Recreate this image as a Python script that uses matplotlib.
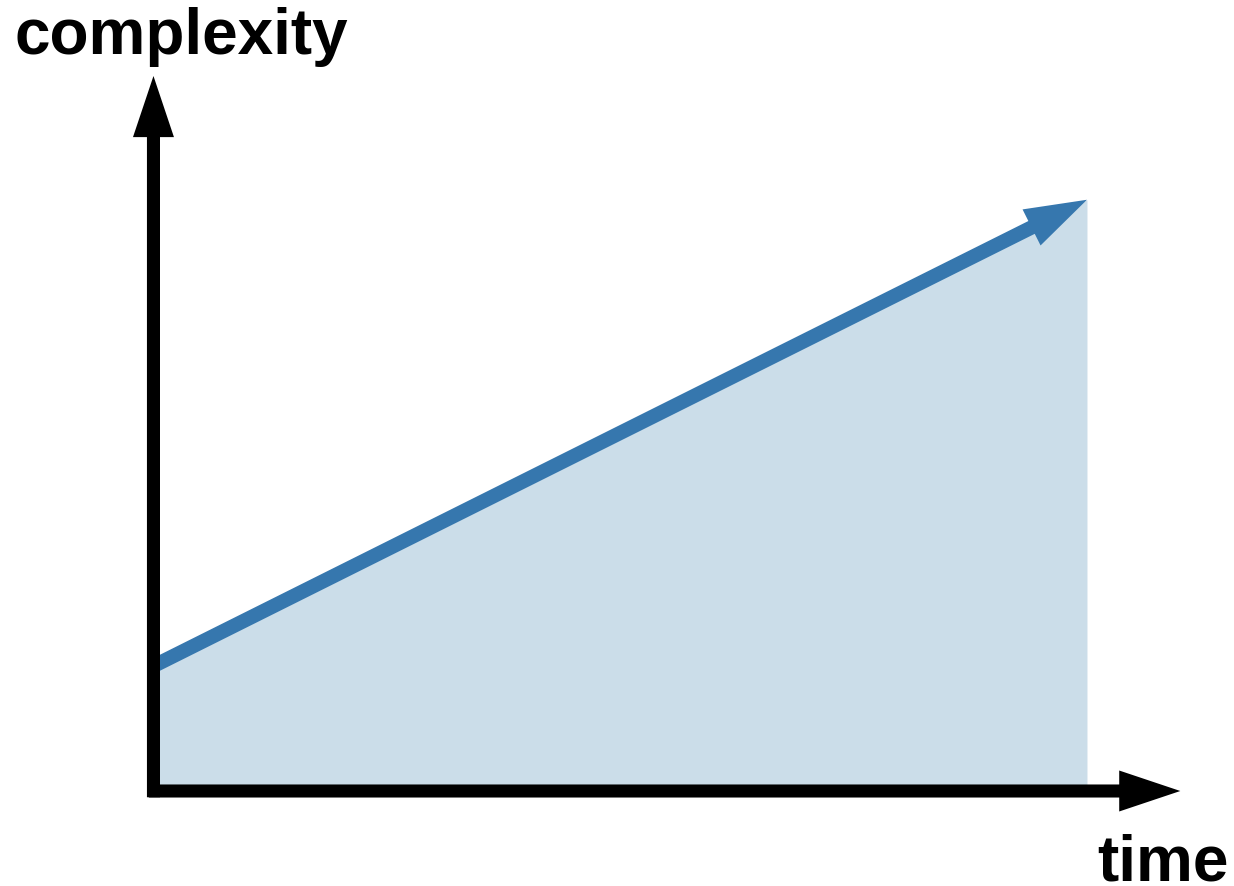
import numpy as np
import matplotlib.pyplot as plt

plt.rcParams['font.family'] = ['Liberation Sans', 'DejaVu Sans']

# data: complexity grows linearly with time
time = [0, 10]
complexity = [1.0, 4.73]

line_blue = '#3677ae'
fill_blue = '#cbdde9'

fig = plt.figure(figsize=(12.34, 8.86), dpi=100)
ax = fig.add_axes([0, 0, 1, 1])
ax.set_xlim(-1.644, 11.575)
ax.set_ylim(-0.76, 6.328)
ax.axis('off')

# shaded area under the trend
ax.fill_between(time, 0, complexity, color=fill_blue, lw=0, zorder=1)

# trend arrow
ax.annotate('', xy=(time[-1], complexity[-1]), xytext=(time[0], complexity[0]),
            arrowprops=dict(width=10.3, headwidth=29, headlength=44.6,
                            color=line_blue, lw=0, shrink=0), zorder=2)

# axes as thick black arrows
ax.annotate('', xy=(0, 5.72), xytext=(0, -0.05),
            arrowprops=dict(width=9.4, headwidth=29.5, headlength=44,
                            color='black', lw=0, shrink=0), zorder=3)
ax.annotate('', xy=(11.0, 0), xytext=(-0.05, 0),
            arrowprops=dict(width=9.4, headwidth=29.5, headlength=44,
                            color='black', lw=0, shrink=0), zorder=3)

ax.text(0.012, 0.939, 'complexity', transform=ax.transAxes, fontsize=46,
        fontweight='bold', ha='left', va='baseline')
ax.text(0.996, 0.006, 'time', transform=ax.transAxes, fontsize=46,
        fontweight='bold', ha='right', va='baseline')

fig.savefig('out.png', dpi=100)
